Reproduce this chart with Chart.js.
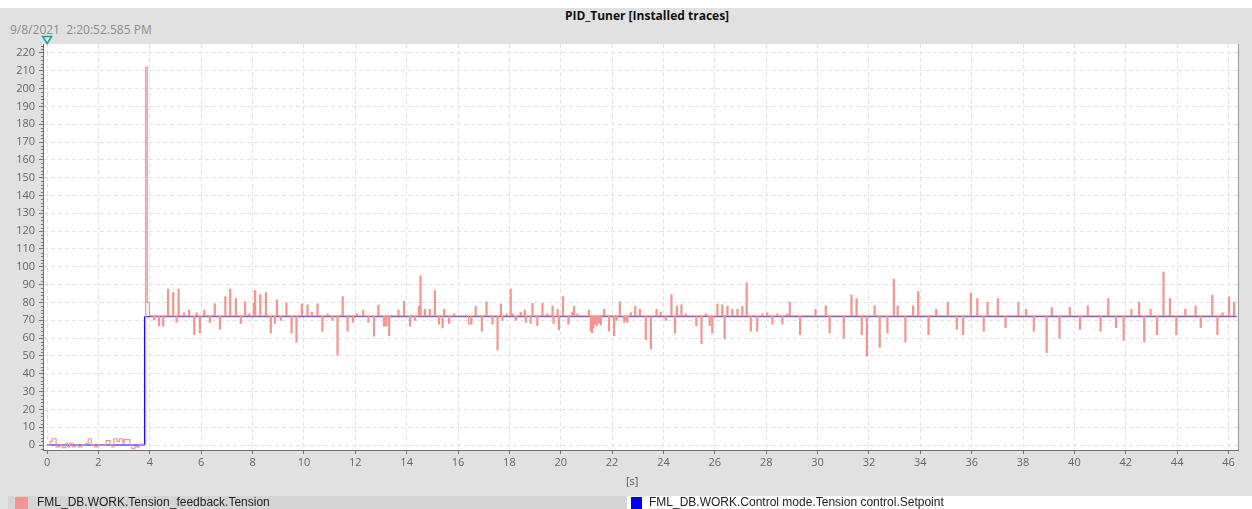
<!DOCTYPE html>
<html>
<head>
<meta charset="utf-8">
<title>PID_Tuner [Installed traces]</title>
<script src="https://cdn.jsdelivr.net/npm/chart.js@4.4.1/dist/chart.umd.min.js"></script>
<style>
  html, body { margin:0; padding:0; background:#e1e1e1; }
  #wrap { position:relative; width:1252px; height:509px; overflow:hidden; background:#e1e1e1; }
  #topstrip { position:absolute; left:0; top:0; width:1252px; height:8px; background:#fff; }
  #title { position:absolute; left:447px; width:400px; top:7px; text-align:center; font:bold 12px 'Open Sans', sans-serif; color:#111; }
  #stamp { position:absolute; left:10px; top:21px; font:12px 'Open Sans', sans-serif; color:#8c8c8c; white-space:pre; }
  #unit { position:absolute; left:626px; top:473px; font:11px 'Open Sans', sans-serif; color:#555; }
  #trend { position:absolute; left:0; top:0; }
  .item { position:absolute; top:496px; height:13px; font:12px 'Liberation Sans', Arial, sans-serif; color:#222; line-height:12px; white-space:nowrap; }
  .sw { position:absolute; top:1px; height:12px; }
  .lab { position:absolute; top:0; }
</style>
</head>
<body>
<div id="wrap">
  <div id="topstrip"></div>
  <div id="title">PID_Tuner [Installed traces]</div>
  <div id="stamp">9/8/2021  2:20:52.585 PM</div>
  <canvas id="trend" width="1252" height="509"></canvas>
  <div id="unit">[s]</div>
  <div class="item" style="left:8px;width:619px;background:#d5d5d5">
    <span class="sw" id="sw0" style="left:7px;width:13px"></span><span class="lab" id="lab0" style="left:29px"></span>
  </div>
  <div class="item" style="left:627px;width:625px;background:#fff">
    <span class="sw" id="sw1" style="left:4px;width:11px"></span><span class="lab" id="lab1" style="left:22px"></span>
  </div>
</div>
<script>
const seriesNames = ['FML_DB.WORK.Tension_feedback.Tension', 'FML_DB.WORK.Control mode.Tension control.Setpoint'];
const seriesColors = ['#f39491', '#0000ff'];

// feedback while the setpoint is still 0 (time [s], value)
const startTimes  = [0, 0.12, 0.2, 0.35, 0.5, 0.6, 0.72, 0.8, 0.88, 0.98, 1.1, 1.2, 1.35, 1.5, 1.6, 1.72, 1.85, 2.0, 2.3, 2.45, 2.52, 2.6, 2.72, 2.82, 2.95, 3.0, 3.22, 3.3, 3.42, 3.6, 3.75, 3.84, 3.9];
const startValues = [0, 2, 3.5, -1, 0, -1.5, 1, -1, 1, -1, 0, -1, 0, 1, 3.5, 0, -1, 0, 2.5, 0, -1, 3.5, 2, 3.5, 1, 3, 0, -2, -1, 0.5, 0, 212, 80];

// feedback after the step: times [s] of the excursions and their values
const spikeTimes = [
  3.98, 4.15, 4.34, 4.5, 4.69, 4.89, 5.02, 5.1, 5.32, 5.51, 5.71, 5.8, 5.93, 6.1, 6.32, 6.51, 6.71, 6.92, 7.11, 7.33,
  7.52, 7.69, 7.85, 8.03, 8.08, 8.28, 8.5, 8.69, 8.85, 8.93, 9.08, 9.3, 9.5, 9.69, 9.9, 10.12, 10.29, 10.51, 10.7, 10.9,
  11.09, 11.29, 11.49, 11.68, 11.89, 12.04, 12.29, 12.49, 12.71, 12.88, 13.1, 13.19, 13.3, 13.66, 13.88, 14.11, 14.31, 14.46, 14.52, 14.69,
  14.88, 15.08, 15.24, 15.38, 15.44, 15.63, 15.83, 16.41, 16.45, 16.5, 16.67, 16.91, 17.09, 17.32, 17.52, 17.65, 17.71, 17.87, 18.03, 18.1,
  18.23, 18.42, 18.58, 18.62, 18.81, 18.88, 19.07, 19.27, 19.46, 19.66, 19.7, 19.86, 19.91, 20.07, 20.28, 20.43, 20.5, 20.63, 21.08, 21.15,
  21.2, 21.25, 21.3, 21.38, 21.46, 21.54, 21.67, 21.86, 22.06, 22.16, 22.28, 22.45, 22.52, 22.58, 22.71, 22.88, 23.06, 23.29, 23.49, 23.71,
  23.87, 24.07, 24.29, 24.43, 24.5, 24.68, 24.85, 25.26, 25.46, 25.63, 25.78, 25.88, 26.08, 26.27, 26.36, 26.47, 26.66, 26.86, 27.05, 27.22,
  27.38, 27.63, 27.83, 28.02, 28.22, 28.41, 28.61, 28.8, 28.9, 29.3, 29.9, 30.3, 30.45, 31.0, 31.3, 31.5, 31.7, 31.9, 32.2, 32.4,
  32.7, 32.95, 33.1, 33.4, 33.7, 33.9, 34.3, 34.6, 35.05, 35.4, 35.65, 35.95, 36.2, 36.45, 36.6, 37.0, 37.3, 37.8, 38.1, 38.4,
  38.9, 39.1, 39.4, 39.8, 40.2, 40.5, 41.0, 41.3, 41.6, 41.9, 42.2, 42.5, 42.7, 42.95, 43.2, 43.45, 43.7, 43.95, 44.3, 44.7,
  44.9, 45.35, 45.55, 45.75, 46.0, 46.2
];
const spikeValues = [
  73, 70.4, 67, 67, 87.3, 85.4, 69, 87.3, 74, 75.5, 62.1, 74, 63, 75.5, 69, 79.1, 65.2, 83.2, 87.3, 82,
  68.4, 80.2, 73.5, 79.6, 86.5, 84.3, 85.4, 63, 68.4, 81.3, 70, 79.6, 62.9, 57.9, 79, 78.5, 74.5, 79, 63.9, 73.5,
  70, 50.6, 83.2, 64, 69, 73.5, 75.5, 69, 61.2, 78.3, 66.8, 66.8, 61.5, 75.5, 80.5, 66.8, 70, 77.6, 94.8, 76,
  76, 86.5, 68, 65.8, 76, 68.4, 73.5, 68, 68, 68, 77.6, 64, 80.2, 68, 53.5, 78.9, 70, 73.5, 87.3, 73.5,
  70, 74.5, 75.5, 69, 68.4, 79.4, 67.1, 79.4, 73.5, 77.8, 68.4, 76, 64.7, 83.2, 68, 74.5, 77.6, 73.5, 75.5, 64,
  63, 66, 68, 67, 68.4, 67.5, 76, 64, 61.5, 70, 80.2, 69, 70, 69, 74, 77.6, 76, 59.2, 54.1, 76,
  74.5, 70, 84.3, 62.9, 77.6, 78.5, 73.5, 67.1, 57, 73.5, 67.1, 62.9, 78.9, 78.5, 59.8, 77.6, 76, 76, 77.6, 90.9,
  64, 64, 73.5, 74, 68, 73.5, 68, 73.5, 80, 62, 76, 78, 63, 60, 84, 82, 62, 50, 78, 55,
  63, 93, 78, 58, 78, 86, 62, 76, 80, 65, 62, 85, 82, 64, 80, 82, 66, 80, 76, 64,
  52, 77, 60, 77, 65, 78, 64, 82, 66, 59, 76, 80, 58, 76, 62, 97, 82, 62, 76, 78,
  66, 84, 62, 74, 83, 80
];
const feedbackLevel = 72.5;
const spikeWidth = 0.04;
const traceEnd = 46.32;

// setpoint: step from 0 to 72
const setpointTimes  = [0, 3.79, traceEnd];
const setpointValues = [0, 72, 72];

const xRange = [-0.16, 46.37];
const yRange = [-2.8, 225];
const xStep = 2;
const yStep = 10;
const yMinorStep = 2;

// sample-and-hold points for the feedback trace
const feedback = startTimes.map((t, i) => ({ x: t, y: startValues[i] }));
spikeTimes.forEach((t, i) => {
  feedback.push({ x: t, y: spikeValues[i] });
  const next = i + 1 < spikeTimes.length ? spikeTimes[i + 1] : traceEnd;
  if (next > t + spikeWidth) feedback.push({ x: t + spikeWidth, y: feedbackLevel });
});
feedback.push({ x: traceEnd, y: feedbackLevel });

const setpoint = setpointTimes.map((t, i) => ({ x: t, y: setpointValues[i] }));

document.getElementById('sw0').style.background = seriesColors[0];
document.getElementById('sw1').style.background = seriesColors[1];
document.getElementById('lab0').textContent = seriesNames[0];
document.getElementById('lab1').textContent = seriesNames[1];

const plotFrame = {
  id: 'plotFrame',
  beforeDraw(chart) {
    const { ctx, chartArea: a } = chart;
    ctx.save();
    ctx.fillStyle = '#fff';
    ctx.fillRect(a.left, a.top, a.right - a.left, a.bottom - a.top);
    ctx.restore();
  },
  afterDraw(chart) {
    const { ctx, chartArea: a, scales } = chart;
    ctx.save();
    // right edge of the plot
    ctx.strokeStyle = '#9a9a9a';
    ctx.lineWidth = 1;
    ctx.beginPath();
    ctx.moveTo(a.right + 0.5, a.top);
    ctx.lineTo(a.right + 0.5, a.bottom);
    ctx.stroke();
    // minor ticks on the value axis
    ctx.strokeStyle = '#777';
    ctx.beginPath();
    for (let v = -2; v <= 224; v += yMinorStep) {
      if (v % yStep === 0) continue;
      const y = Math.round(scales.y.getPixelForValue(v)) + 0.5;
      ctx.moveTo(a.left - 2, y);
      ctx.lineTo(a.left, y);
    }
    ctx.stroke();
    // trigger marker at t = 0
    const x0 = scales.x.getPixelForValue(0);
    ctx.beginPath();
    ctx.moveTo(x0 - 4.5, 36.5);
    ctx.lineTo(x0 + 4.5, 36.5);
    ctx.lineTo(x0, 43.5);
    ctx.closePath();
    ctx.fillStyle = '#cdeeee';
    ctx.fill();
    ctx.strokeStyle = '#1f9e9e';
    ctx.lineWidth = 1.5;
    ctx.stroke();
    ctx.restore();
  }
};

new Chart(document.getElementById('trend'), {
  type: 'line',
  data: {
    datasets: [
      { label: seriesNames[0], data: feedback, borderColor: seriesColors[0], borderWidth: 1.2, pointRadius: 0, stepped: true, order: 0 },
      { label: seriesNames[1], data: setpoint, borderColor: seriesColors[1], borderWidth: 1, pointRadius: 0, stepped: true, order: 1 }
    ]
  },
  options: {
    responsive: false,
    animation: false,
    events: [],
    layout: { padding: { top: 44, right: 14, bottom: 29, left: 0 } },
    plugins: { legend: { display: false }, tooltip: { enabled: false } },
    scales: {
      x: {
        type: 'linear', min: xRange[0], max: xRange[1],
        afterFit(s) { s.height = 30; },
        ticks: { stepSize: xStep, includeBounds: false, autoSkip: false, maxRotation: 0, padding: 2, color: '#666', font: { family: 'Open Sans', size: 11 } },
        grid: { color: '#e2e2e2', tickColor: '#777', tickLength: 4, tickBorderDash: [] },
        border: { color: '#707070', width: 1, dash: [4, 3] }
      },
      y: {
        type: 'linear', min: yRange[0], max: yRange[1],
        afterFit(s) { s.width = 43; },
        ticks: { stepSize: yStep, includeBounds: false, autoSkip: false, padding: 4, color: '#666', font: { family: 'Open Sans', size: 11 } },
        grid: { color: '#e2e2e2', tickColor: '#777', tickLength: 4, tickBorderDash: [] },
        border: { color: '#707070', width: 1, dash: [4, 3] }
      }
    }
  },
  plugins: [plotFrame]
});
</script>
</body>
</html>
